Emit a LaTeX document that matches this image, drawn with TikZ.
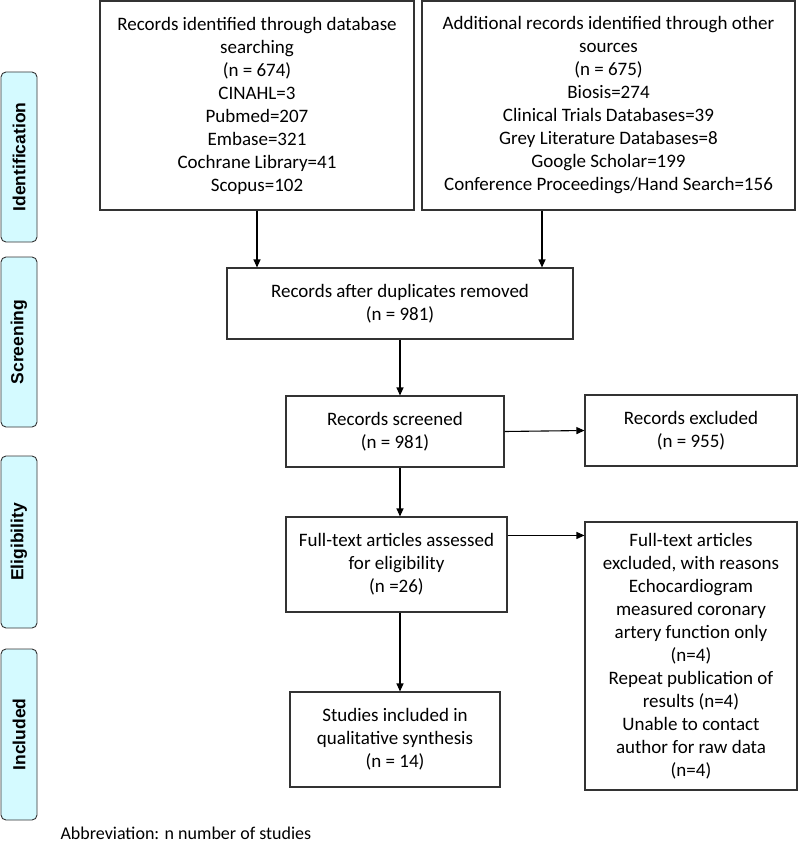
\documentclass[tikz,border=0pt]{standalone}
\usepackage{fontspec}
\setmainfont{Carlito}
\newfontfamily\phasefont{Liberation Sans}
\usepackage{tikz}
\usetikzlibrary{arrows.meta}

\definecolor{phasefill}{RGB}{212,250,255}
\definecolor{linegray}{RGB}{51,51,51}

\begin{document}
\begin{tikzpicture}[x=1pt, y=-1pt,
    flowbox/.style={draw=linegray, line width=1.1pt, rectangle, align=center,
        inner sep=0pt, font=\fontsize{19}{23}\selectfont},
    phasebox/.style={draw=linegray, line width=0.9pt, fill=phasefill, rounded corners=5pt,
        rotate=90, minimum height=36, inner sep=0pt,
        font=\phasefont\bfseries\fontsize{17.5}{20}\selectfont},
    arr/.style={line width=1.1pt, -{Triangle[length=8pt, width=7pt]}}]
    \useasboundingbox (0,0) rectangle (800,845);

    % Phase labels on the left
    \node[phasebox, minimum width=170] (ident) at (19,157) {Identification};
    \node[phasebox, minimum width=170] (screen) at (19,342) {Screening};
    \node[phasebox, minimum width=172] (elig) at (19,542) {Eligibility};
    \node[phasebox, minimum width=171] (incl) at (19,734.5) {Included};

    % Identification
    \node[flowbox, minimum width=314, minimum height=209] (db) at (257,105.5)
        {Records identified through database\\ searching\\ (n = 674)\\ CINAHL=3\\
         Pubmed=207\\ Embase=321\\ Cochrane Library=41\\ Scopus=102};
    \node[flowbox, minimum width=373, minimum height=209] (other) at (608.5,105.5)
        {Additional records identified through other\\ sources\\ (n = 675)\\ Biosis=274\\
         Clinical Trials Databases=39\\ Grey Literature Databases=8\\
         Google Scholar=199\\ Conference Proceedings/Hand Search=156};

    % Screening
    \node[flowbox, minimum width=346, minimum height=71] (dup) at (400,303.5)
        {Records after duplicates removed\\ (n = 981)};
    \node[flowbox, minimum width=218, minimum height=71] (screened) at (395,431.5)
        {Records screened\\ (n = 981)};
    \node[flowbox, minimum width=212, minimum height=71] (excl) at (691,430.5)
        {Records excluded\\ (n = 955)};

    % Eligibility
    \node[flowbox, minimum width=221, minimum height=95] (fulltext) at (396.5,564.5)
        {Full-text articles assessed\\ for eligibility\\ (n =26)};
    \node[flowbox, minimum width=212, minimum height=268] (reasons) at (691,656)
        {Full-text articles\\ excluded, with reasons\\ Echocardiogram\\ measured coronary\\
         artery function only\\ (n=4)\\ Repeat publication of\\ results (n=4)\\
         Unable to contact\\ author for raw data\\ (n=4)};

    % Included
    \node[flowbox, minimum width=210, minimum height=95] (studies) at (395,739.5)
        {Studies included in\\ qualitative synthesis\\ (n = 14)};

    % Connectors
    \coordinate (otherdrop) at (542,0);
    \draw[arr] (db.south) -- (db.south |- dup.north);
    \draw[arr] (other.south -| otherdrop) -- (otherdrop |- dup.north);
    \draw[arr] (dup.south) -- (dup.south |- screened.north);
    \draw[arr] (screened.east) -- (excl.west);
    \draw[arr] (dup.south |- screened.south) -- (dup.south |- fulltext.north);
    \draw[arr] ([yshift=-19]fulltext.north east) coordinate (ftout) -- (ftout -| reasons.west);
    \draw[arr] (dup.south |- fulltext.south) -- (dup.south |- studies.north);

    % Note below the chart
    \node[anchor=west, font=\fontsize{18}{20}\selectfont] (note) at (57,833)
        {Abbreviation: n number of studies};
\end{tikzpicture}
\end{document}
